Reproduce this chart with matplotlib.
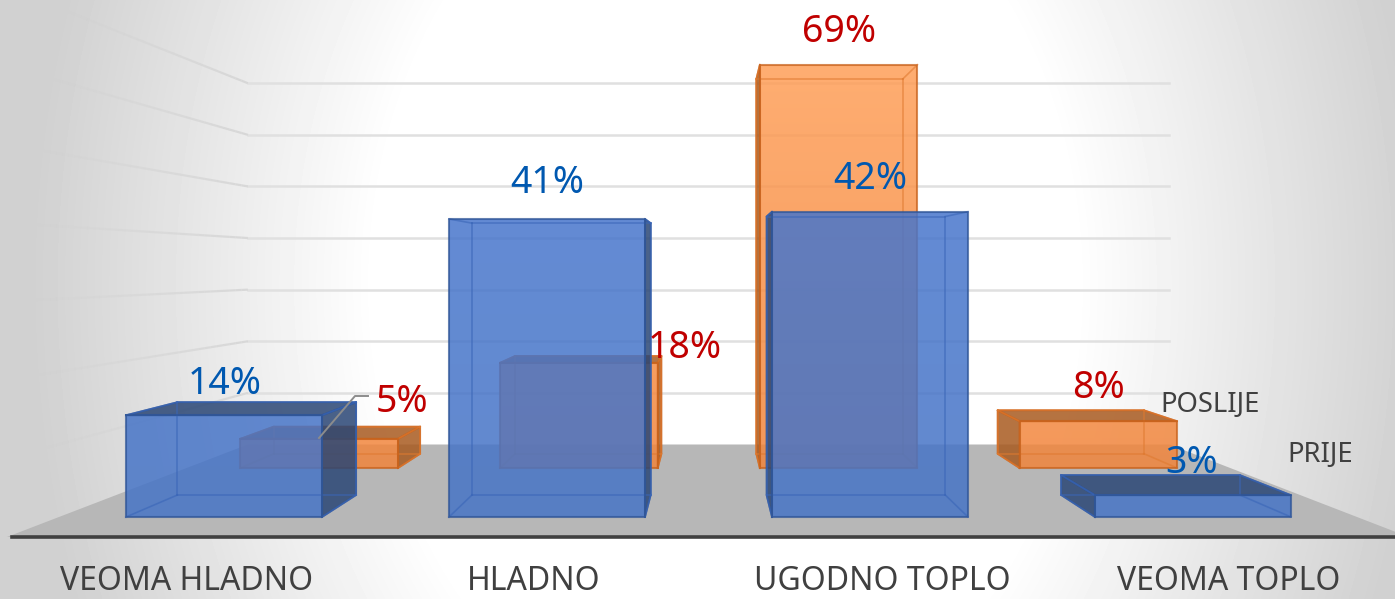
import numpy as np
import matplotlib
matplotlib.use("Agg")
import matplotlib.pyplot as plt
from matplotlib.collections import LineCollection
from matplotlib.colors import to_rgb
from matplotlib.patches import Polygon

plt.rcParams["font.family"] = ["Noto Sans", "DejaVu Sans"]

# --- data ---------------------------------------------------------------------
categories = ["VEOMA HLADNO", "HLADNO", "UGODNO TOPLO", "VEOMA TOPLO"]
prije = [14, 41, 42, 3]
poslije = [5, 18, 69, 8]
grid_values = [10, 20, 30, 40, 50, 60, 70]

# --- fake 3d camera (all in pixels of the 1395x599 picture) --------------------
VPX, VPY = 710, 267
FLOOR_Y = 517
PX_PER_PCT = 7.27
BAR_X0, BAR_STEP, BAR_W = 126, 323, 196
WALL_S, FRONT_S = 0.71, 1.08
FLOOR_L, FLOOR_R = 59, 1357


def project(x, h, s):
    return VPX + s * (x - VPX), VPY + s * (FLOOR_Y - h * PX_PER_PCT - VPY)


def gradient_face(ax, pts, low, high, alpha, z):
    # vertical colour fade over the whole chart height, clipped to the face
    ramp = np.linspace(0, 1, 256)[:, None]
    rgba = np.zeros((256, 1, 4))
    rgba[..., :3] = (1 - ramp[..., None]) * np.array(to_rgb(high)) + ramp[..., None] * np.array(to_rgb(low))
    rgba[..., 3] = alpha
    im = ax.imshow(rgba, extent=(0, 1395, 517, 60), aspect="auto", zorder=z, interpolation="bilinear")
    im.set_clip_path(Polygon(pts, closed=True, transform=ax.transData))


def draw_bar(ax, i, val, s0, s1, low, high, edge, inner, dark, z):
    x0 = BAR_X0 + BAR_STEP * i
    x1 = x0 + BAR_W
    # edges of the faces turned away from the camera: only thin inner lines
    hidden = [
        [(x0, 0, s1), (x1, 0, s1)],
        [(x0, 0, s1), (x0, val, s1)],
        [(x1, 0, s1), (x1, val, s1)],
        [(x0, val, s1), (x1, val, s1)],
        [(x0, 0, s0), (x0, 0, s1)],
        [(x1, 0, s0), (x1, 0, s1)],
        [(x0, val, s0), (x0, val, s1)],
        [(x1, val, s0), (x1, val, s1)],
    ]
    # outer faces we can see get the dark shade
    faces = []
    if x1 < VPX:
        faces.append([(x1, 0, s0), (x1, val, s0), (x1, val, s1), (x1, 0, s1)])
    if x0 > VPX:
        faces.append([(x0, 0, s0), (x0, val, s0), (x0, val, s1), (x0, 0, s1)])
    if project(x0, val, s0)[1] > VPY:
        faces.append([(x0, val, s0), (x1, val, s0), (x1, val, s1), (x0, val, s1)])
    for f in faces:
        pts = [project(*p) for p in f]
        ax.fill(*zip(*pts), color=dark, alpha=0.85, lw=0, zorder=z)
        ax.plot(*zip(*(pts + pts[:1])), color=edge, lw=1.3, alpha=0.9, zorder=z + 0.2)
    front = [project(x0, 0, s0), project(x1, 0, s0), project(x1, val, s0), project(x0, val, s0)]
    gradient_face(ax, front, low, high, 0.85, z + 0.1)
    for a, b in hidden:
        pa, pb = project(*a), project(*b)
        ax.plot([pa[0], pb[0]], [pa[1], pb[1]], color=inner, lw=1.2, alpha=0.6, zorder=z + 0.2)
    ax.plot(*zip(*(front + front[:1])), color=edge, lw=1.5, alpha=0.75, zorder=z + 0.3)


fig = plt.figure(figsize=(13.95, 5.99), dpi=100)
ax = fig.add_axes([0, 0, 1, 1])

# --- background gradient -------------------------------------------------------
yy, xx = np.mgrid[0:599, 0:1395]
d = np.sqrt(((xx - 725) / 350.0) ** 2 + ((yy - 285) / 456.0) ** 2)
shade = 1 - np.clip((d - 1) * 0.185, 0, 0.18)
ax.imshow(shade, cmap="gray", vmin=0, vmax=1, extent=(0, 1395, 599, 0), aspect="auto", zorder=0)

# --- walls and floor -----------------------------------------------------------
for g in grid_values:
    pl, pr = project(FLOOR_L, g, WALL_S), project(FLOOR_R, g, WALL_S)
    ax.plot([pl[0], pr[0]], [pl[1], pr[1]], color="#e0e0e0", lw=1.8, zorder=1)
    ss = np.linspace(WALL_S, FRONT_S, 40)
    pts = np.array([project(FLOOR_L, g, s) for s in ss])
    segs = np.stack([pts[:-1], pts[1:]], axis=1)
    cols = [(0.82, 0.82, 0.82, a) for a in np.linspace(0.75, 0.0, len(segs))]
    ax.add_collection(LineCollection(segs, colors=cols, linewidths=1.6, zorder=1))

floor = [project(FLOOR_L, 0, WALL_S), project(FLOOR_R, 0, WALL_S),
         project(FLOOR_R, 0, FRONT_S), project(FLOOR_L, 0, FRONT_S)]
ax.fill(*zip(*floor), color="#b7b7b7", lw=0, zorder=1.5)
ax.plot([12, 1395], [537, 537], color="#404040", lw=2.6, zorder=2)

# --- bars, back row first ------------------------------------------------------
for i, v in enumerate(poslije):
    draw_bar(ax, i, v, 0.804, 0.747, "#f08238", "#ff9f58", "#c8621c", "#e07a30", "#a85a20", 3)
for i, v in enumerate(prije):
    draw_bar(ax, i, v, 1.0, 0.912, "#4674c6", "#4877cf", "#2f5597", "#3a66b8", "#2a4675", 4)

# --- labels --------------------------------------------------------------------
prije_xy = [(225, 384), (547, 183), (870, 179), (1192, 463)]
poslije_xy = [(402, 402), (685, 348), (839, 32), (1099, 388)]
for v, (x, y) in zip(prije, prije_xy):
    ax.text(x, y, f"{v}%", color="#0058b0", fontsize=27, ha="center", va="center", zorder=6)
for v, (x, y) in zip(poslije, poslije_xy):
    ax.text(x, y, f"{v}%", color="#c00000", fontsize=27, ha="center", va="center", zorder=6)

ax.plot([319, 355, 368], [438, 396, 396], color="#8c8c8c", lw=1.4, zorder=5)

cat_x = [187, 534, 882, 1229]
for name, x in zip(categories, cat_x):
    ax.text(x, 590, name, color="#404040", fontsize=23, ha="center", va="baseline", zorder=6)
ax.text(1210, 405, "POSLIJE", color="#404040", fontsize=19.8, ha="center", va="center", zorder=6)
ax.text(1320, 455, "PRIJE", color="#404040", fontsize=19.8, ha="center", va="center", zorder=6)

ax.set_xlim(0, 1395)
ax.set_ylim(599, 0)
ax.axis("off")

plt.savefig("out.png", dpi=100)
